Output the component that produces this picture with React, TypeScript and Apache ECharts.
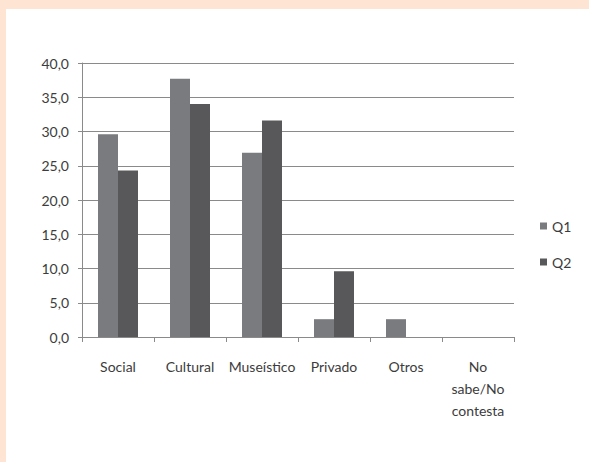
import React, { useEffect, useRef } from "react";
import * as echarts from "echarts";

const categories = ["Social", "Cultural", "Museístico", "Privado", "Otros", "No\nsabe/No\ncontesta"];
const q1Values = [29.6, 37.7, 26.9, 2.6, 2.6, 0];
const q2Values = [24.3, 34.0, 31.6, 9.6, 0, 0];
const seriesNames = ["Q1", "Q2"];

const FONT = "Lato";
const TEXT = "#3c3c3c";
const GRID = "#8a8a8a";

export default function App() {
  const ref = useRef<HTMLDivElement>(null);
  useEffect(() => {
    document.body.style.margin = "0";
    const chart = echarts.init(ref.current!, null, { renderer: "svg" });
    chart.setOption({
      animation: false,
      textStyle: { fontFamily: FONT, color: TEXT },
      grid: { left: 82, top: 63, width: 432, height: 274, containLabel: false },
      legend: {
        orient: "vertical",
        left: 540,
        top: 216,
        padding: 0,
        itemWidth: 7,
        itemHeight: 7,
        itemGap: 16,
        icon: "rect",
        data: seriesNames,
        textStyle: { fontFamily: FONT, fontSize: 14, color: TEXT, lineHeight: 20 },
      },
      xAxis: {
        type: "category",
        data: categories,
        axisLine: { show: true, lineStyle: { color: GRID, width: 1 } },
        axisTick: { show: true, length: 5, lineStyle: { color: GRID } },
        axisLabel: {
          interval: 0,
          margin: 18,
          fontFamily: FONT,
          fontSize: 14,
          color: TEXT,
          lineHeight: 22,
        },
      },
      yAxis: {
        type: "value",
        min: 0,
        max: 40,
        interval: 5,
        axisLine: { show: true, lineStyle: { color: GRID, width: 1 } },
        axisTick: { show: true, length: 4, lineStyle: { color: GRID } },
        splitLine: { show: true, lineStyle: { color: GRID, width: 1 } },
        axisLabel: {
          margin: 13,
          fontFamily: FONT,
          fontSize: 14,
          color: TEXT,
          formatter: (v: number) => v.toFixed(1).replace(".", ","),
        },
      },
      series: [
        {
          name: seriesNames[0],
          type: "bar",
          data: q1Values,
          barWidth: 20,
          barGap: "0%",
          itemStyle: { color: "#7a7b7e" },
        },
        {
          name: seriesNames[1],
          type: "bar",
          data: q2Values,
          barWidth: 20,
          barGap: "0%",
          itemStyle: { color: "#58585a" },
        },
      ],
    });
    return () => chart.dispose();
  }, []);
  return (
    <div style={{ position: "absolute", left: 0, top: 0, width: 589, height: 462, background: "#fde4d3" }}>
      <div style={{ position: "absolute", left: 6, top: 9, width: 583, height: 453, background: "#ffffff" }} />
      <div ref={ref} style={{ position: "absolute", left: 0, top: 0, width: 589, height: 462 }} />
    </div>
  );
}
